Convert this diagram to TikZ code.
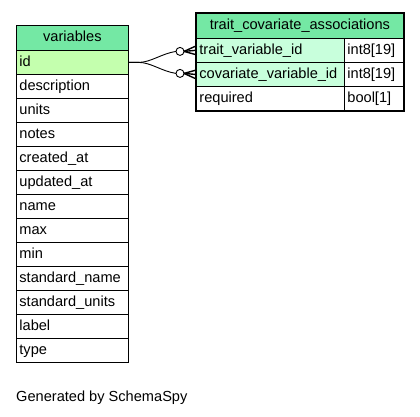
\documentclass[tikz,border=0pt]{standalone}
\usepackage{fontspec}
\setmainfont{Liberation Sans}
\usetikzlibrary{calc}
\definecolor{hdr}{HTML}{74E8A4}
\definecolor{pk}{HTML}{C4FFAE}
\definecolor{fk}{HTML}{C8FFDC}
\begin{document}
\begin{tikzpicture}[x=1pt,y=-1pt,
  every node/.style={font=\fontsize{14.6}{16}\selectfont},
  cell/.style={draw=black,line width=0.8pt,anchor=north west,minimum height=24pt,inner sep=0pt,text width=#1,align=left,inner xsep=0pt,text height=11pt,text depth=3pt},
  hcell/.style={draw=black,line width=0.8pt,anchor=north west,minimum height=25pt,minimum width=#1,inner sep=0pt,fill=hdr,text height=11pt,text depth=3pt},
  rel/.style={line width=0.9pt},
  foot/.style={line width=1.4pt}]
\useasboundingbox (0,0) rectangle (420,416);
% variables table
\node[hcell=112pt] (vh) at (16,25) {variables};
\foreach \n/\t [count=\i from 0] in {id/id,description/description,units/units,notes/notes,created/created\_at,updated/updated\_at,name/name,max/max,min/min,sname/standard\_name,sunits/standard\_units,label/label,type/type}{
  \node[cell=106pt,minimum width=112pt,inner xsep=3pt] (v\n) at (16,50+24*\i) {\t};
}
\fill[pk] ([xshift=0.4pt,yshift=-0.4pt]vid.north west) rectangle ([xshift=-0.4pt,yshift=0.4pt]vid.south east);
\node[cell=106pt,minimum width=112pt,inner xsep=3pt] (vid) at (16,50) {id};
% right table
\node[hcell=207pt] (th) at (196,13) {trait\_covariate\_associations};
\node[cell=142pt,fill=fk,minimum width=148pt,inner xsep=3pt] (ttrait) at (196,38) {trait\_variable\_id};
\node[cell=53pt,minimum width=59pt,inner xsep=3pt] (ttraitt) at (344,38) {int8[19]};
\node[cell=142pt,fill=fk,minimum width=148pt,inner xsep=3pt] (tcov) at (196,62) {covariate\_variable\_id};
\node[cell=53pt,minimum width=59pt,inner xsep=3pt] (tcovt) at (344,62) {int8[19]};
\node[cell=142pt,minimum width=148pt,inner xsep=3pt] (treq) at (196,86) {required};
\node[cell=53pt,minimum width=59pt,inner xsep=3pt] (treqt) at (344,86) {bool[1]};
\draw[line width=2.2pt] (th.north west) rectangle (treqt.south east);
% connectors
\coordinate (c1) at ($(ttrait.west)+(-20,1)$);
\coordinate (c2) at ($(tcov.west)+(-20,-1)$);
\draw[rel] (vid.east) -- ++(10,0) .. controls +(12,0) and ($(c1)+(-14,2)$) .. (c1);
\draw[rel] (vid.east) -- ++(10,0) .. controls +(12,0) and ($(c2)+(-14,-2)$) .. (c2);
\draw[rel,fill=white] ($(c1)+(4,0)$) circle (4pt);
\draw[rel,fill=white] ($(c2)+(4,0)$) circle (4pt);
\foreach \c/\r in {c1/ttrait,c2/tcov}{
  \draw[foot] ($(\c)+(8,0)$) -- ($(\r.west)+(-1,-4)$);
  \draw[foot] ($(\c)+(8,0)$) -- ($(\r.west)+(-1,0)$);
  \draw[foot] ($(\c)+(8,0)$) -- ($(\r.west)+(-1,4)$);
}
% footer
\node[anchor=base west,inner sep=0pt] (gen) at (16,401) {Generated by SchemaSpy};
\end{tikzpicture}
\end{document}
